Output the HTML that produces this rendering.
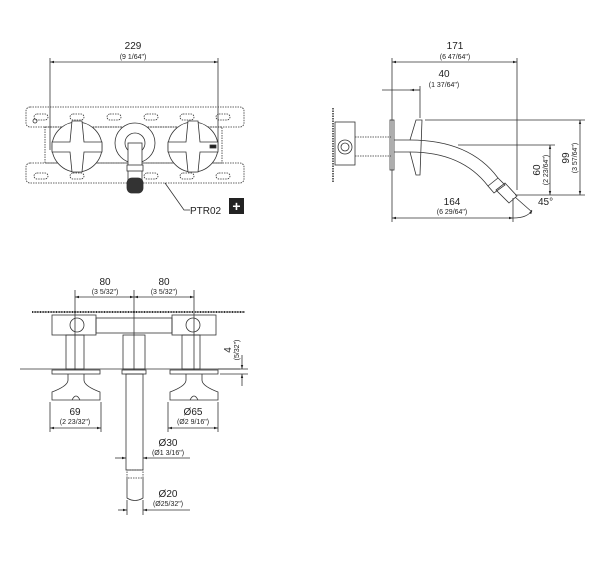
<!DOCTYPE html>
<html><head><style>
html,body{margin:0;padding:0;background:#fff;}
svg{display:block;}
text{font-family:"Liberation Sans",sans-serif;fill:#222;}
.b{font-size:10px;}
.s{font-size:7px;}
</style></head><body>
<svg width="610" height="565" viewBox="0 0 610 565" xmlns="http://www.w3.org/2000/svg">
<defs>
<marker id="a" viewBox="0 0 10 10" refX="10" refY="5" markerWidth="5" markerHeight="5" orient="auto-start-reverse"><path d="M0,2 L10,5 L0,8z" fill="#222"/></marker>
</defs>
<g stroke="#333" stroke-width="0.8" fill="none">
<!-- TOP LEFT VIEW -->
<line x1="50" y1="62" x2="218" y2="62" marker-start="url(#a)" marker-end="url(#a)"/>
<line x1="50" y1="58" x2="50" y2="150"/>
<line x1="218" y1="58" x2="218" y2="150"/>
<rect x="26" y="107" width="218" height="20" rx="4" stroke-dasharray="1.5 1"/>
<rect x="26" y="163" width="218" height="20" rx="4" stroke-dasharray="1.5 1"/>
<rect x="45" y="127" width="177" height="36" stroke-dasharray="1.5 1"/>
<g stroke-dasharray="1.5 1">
<rect x="34" y="114" width="14" height="6" rx="3"/><rect x="70" y="114" width="14" height="6" rx="3"/><rect x="107" y="114" width="14" height="6" rx="3"/><rect x="144" y="114" width="14" height="6" rx="3"/><rect x="180" y="114" width="14" height="6" rx="3"/><rect x="216" y="114" width="14" height="6" rx="3"/>
<rect x="34" y="173" width="14" height="6" rx="3"/><rect x="70" y="173" width="14" height="6" rx="3"/><rect x="144" y="173" width="14" height="6" rx="3"/><rect x="180" y="173" width="14" height="6" rx="3"/><rect x="216" y="173" width="14" height="6" rx="3"/>
</g>
<circle cx="35" cy="121" r="2"/>
<circle cx="77" cy="147" r="25" fill="#fff"/>
<path d="M52,142 L70,142 L72,121 L82,121 L84,142 L102,142 L102,152 L84,152 L82,172 L72,172 L70,152 L52,152z" fill="#fff"/>
<circle cx="193" cy="147" r="25" fill="#fff"/>
<path d="M168,142 L186,142 L188,121 L198,121 L200,142 L218,142 L218,152 L200,152 L198,172 L188,172 L186,152 L168,152z" fill="#fff"/>
<rect x="210" y="145" width="6" height="3" fill="#222"/>
<circle cx="135" cy="143" r="20" fill="#fff"/>
<circle cx="135" cy="143" r="10"/>
<rect x="128" y="143" width="14" height="37" fill="#fff"/>
<rect x="127" y="165" width="16" height="6" fill="#fff"/>
<rect x="127" y="178" width="16" height="15" rx="5" fill="#333"/>
<polyline points="165,183 184,210 190,210"/>
<!-- RIGHT VIEW -->
<line x1="392" y1="62" x2="517" y2="62" marker-start="url(#a)" marker-end="url(#a)"/>
<line x1="392" y1="58" x2="392" y2="222"/>
<line x1="517" y1="58" x2="517" y2="190"/>
<line x1="382" y1="90" x2="420" y2="90"/>
<line x1="410" y1="90" x2="420" y2="90" marker-start="url(#a)"/>
<line x1="420" y1="86" x2="420" y2="118"/>
<line x1="333" y1="108" x2="333" y2="183" stroke-dasharray="1.5 1" stroke-width="1.5"/>
<rect x="335" y="122" width="20" height="43"/>
<circle cx="345" cy="147" r="7"/><circle cx="345" cy="147" r="4"/>
<line x1="355" y1="137" x2="391" y2="137" stroke-dasharray="1.5 1"/>
<line x1="355" y1="156" x2="391" y2="156" stroke-dasharray="1.5 1"/>
<rect x="390" y="120" width="4" height="50"/>
<path d="M394,140 L410,140 L416,120 L422,120 L420,175 L416,175 L410,152 L394,152"/>
<path d="M410,140 Q470,140 498,178 M410,152 Q462,152 488,186"/>
<path d="M488,186 L498,178 L505,185 L494,193z"/>
<path d="M496,190 L505,183 L517,196 L509,203z"/>
<line x1="425" y1="120" x2="585" y2="120"/>
<line x1="458" y1="145" x2="555" y2="145"/>
<line x1="515" y1="195" x2="585" y2="195"/>
<line x1="580" y1="120" x2="580" y2="195" marker-start="url(#a)" marker-end="url(#a)"/>
<line x1="550" y1="145" x2="550" y2="195" marker-start="url(#a)" marker-end="url(#a)"/>
<line x1="392" y1="218" x2="513" y2="218" marker-start="url(#a)" marker-end="url(#a)"/>
<line x1="513" y1="198" x2="513" y2="222"/>
<line x1="515" y1="197" x2="532" y2="212"/>
<path d="M513,218 Q528,218 532,210" marker-end="url(#a)"/>
<!-- BOTTOM VIEW -->
<line x1="32" y1="312" x2="245" y2="312" stroke-width="2" stroke-dasharray="1 0.6"/>
<line x1="75" y1="297" x2="134" y2="297" marker-start="url(#a)" marker-end="url(#a)"/>
<line x1="134" y1="297" x2="194" y2="297" marker-start="url(#a)" marker-end="url(#a)"/>
<line x1="75" y1="290" x2="75" y2="370"/>
<line x1="134" y1="290" x2="134" y2="370"/>
<line x1="194" y1="290" x2="194" y2="370"/>
<rect x="52" y="315" width="44" height="20"/>
<rect x="172" y="315" width="44" height="20"/>
<rect x="96" y="318" width="76" height="15"/>
<circle cx="77" cy="325" r="7"/><circle cx="193" cy="325" r="7"/>
<line x1="20" y1="369" x2="240" y2="369"/>
<rect x="66" y="335" width="18" height="34"/>
<rect x="182" y="335" width="18" height="34"/>
<rect x="123" y="335" width="22" height="34"/>
<rect x="52" y="370" width="48" height="4"/>
<rect x="170" y="370" width="48" height="4"/>
<rect x="122" y="370" width="24" height="4"/>
<path d="M68,374 L68,380 Q68,386 52,392 L52,400 L100,400 L100,392 Q84,386 84,380 L84,374"/>
<path d="M72,400 Q76,392 80,400"/>
<path d="M186,374 L186,380 Q186,386 170,392 L170,400 L218,400 L218,392 Q202,386 202,380 L202,374"/>
<path d="M190,400 Q194,392 198,400"/>
<rect x="126" y="374" width="17" height="96"/>
<rect x="127" y="470" width="16" height="8" stroke-dasharray="1.5 1"/>
<path d="M127,478 L127,498 Q135,503 143,498 L143,478"/>
<line x1="50" y1="402" x2="50" y2="432"/><line x1="101" y1="402" x2="101" y2="432"/>
<line x1="50" y1="428" x2="101" y2="428" marker-start="url(#a)" marker-end="url(#a)"/>
<line x1="168" y1="402" x2="168" y2="432"/><line x1="218" y1="402" x2="218" y2="432"/>
<line x1="168" y1="428" x2="218" y2="428" marker-start="url(#a)" marker-end="url(#a)"/>
<line x1="115" y1="458" x2="126" y2="458" marker-end="url(#a)"/>
<line x1="143" y1="458" x2="190" y2="458" marker-start="url(#a)"/>
<line x1="118" y1="510" x2="127" y2="510" marker-end="url(#a)"/>
<line x1="143" y1="510" x2="190" y2="510" marker-start="url(#a)"/>
<line x1="127" y1="500" x2="127" y2="515"/><line x1="143" y1="500" x2="143" y2="515"/>
<line x1="218" y1="369" x2="248" y2="369"/>
<line x1="220" y1="374" x2="248" y2="374"/>
<line x1="242" y1="355" x2="242" y2="369" marker-end="url(#a)"/>
<line x1="242" y1="386" x2="242" y2="374" marker-end="url(#a)"/>
</g>
<text x="133" y="49" class="b" text-anchor="middle">229</text>
<text x="133" y="59" class="s" text-anchor="middle">(9 1/64")</text>
<text x="190" y="214" class="b">PTR02</text>
<rect x="229" y="198" width="15" height="16" fill="#222"/>
<text x="236.5" y="211" font-size="14" font-weight="bold" text-anchor="middle" style="fill:#fff">+</text>
<text x="455" y="49" class="b" text-anchor="middle">171</text>
<text x="455" y="59" class="s" text-anchor="middle">(6 47/64")</text>
<text x="444" y="77" class="b" text-anchor="middle">40</text>
<text x="444" y="87" class="s" text-anchor="middle">(1 37/64")</text>
<text x="452" y="205" class="b" text-anchor="middle">164</text>
<text x="452" y="214" class="s" text-anchor="middle">(6 29/64")</text>
<text x="538" y="205" class="b">45°</text>
<text transform="translate(540,170) rotate(-90)" class="b" text-anchor="middle">60</text>
<text transform="translate(548,170) rotate(-90)" class="s" text-anchor="middle">(2 23/64")</text>
<text transform="translate(569,158) rotate(-90)" class="b" text-anchor="middle">99</text>
<text transform="translate(577,158) rotate(-90)" class="s" text-anchor="middle">(3 57/64")</text>
<text x="105" y="285" class="b" text-anchor="middle">80</text>
<text x="105" y="294" class="s" text-anchor="middle">(3 5/32")</text>
<text x="164" y="285" class="b" text-anchor="middle">80</text>
<text x="164" y="294" class="s" text-anchor="middle">(3 5/32")</text>
<text x="75" y="415" class="b" text-anchor="middle">69</text>
<text x="75" y="424" class="s" text-anchor="middle">(2 23/32")</text>
<text x="193" y="415" class="b" text-anchor="middle">Ø65</text>
<text x="193" y="424" class="s" text-anchor="middle">(Ø2 9/16")</text>
<text x="168" y="446" class="b" text-anchor="middle">Ø30</text>
<text x="168" y="455" class="s" text-anchor="middle">(Ø1 3/16")</text>
<text x="168" y="497" class="b" text-anchor="middle">Ø20</text>
<text x="168" y="506" class="s" text-anchor="middle">(Ø25/32")</text>
<text transform="translate(231,350) rotate(-90)" class="b" text-anchor="middle">4</text>
<text transform="translate(239,350) rotate(-90)" class="s" text-anchor="middle">(5/32")</text>
</svg>
</body></html>
